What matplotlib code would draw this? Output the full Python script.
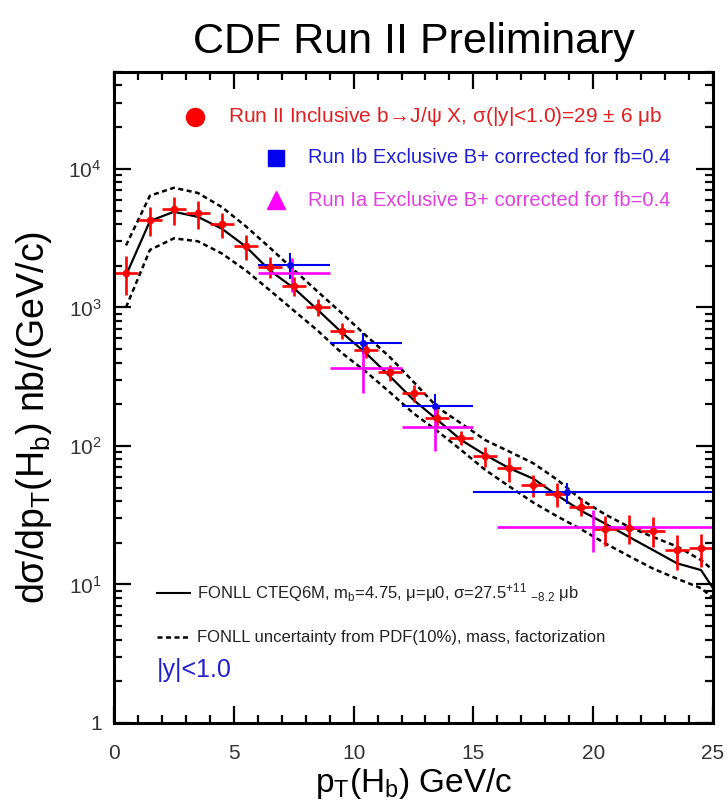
import numpy as np
import matplotlib
matplotlib.use("Agg")
import matplotlib.pyplot as plt

plt.rcParams["font.family"] = ["Liberation Sans", "DejaVu Sans"]
plt.rcParams["mathtext.default"] = "regular"

# Run II inclusive b -> J/psi X (1 GeV bins)
run2_pt = np.arange(0.5, 25, 1.0)
run2_xs = [1780, 4280, 5100, 4780, 3980, 2780, 1970, 1430, 1010, 680, 493, 340, 242,
           160, 115, 84, 69, 52, 45, 36.5, 25, 25.5, 24.5, 17.8, 18.3]
run2_err = [550, 1000, 1150, 1100, 820, 570, 350, 220, 140, 85, 65, 45, 35,
            25, 14, 14, 14, 9.5, 9, 5.5, 6, 6, 6, 5, 5]

# Run Ib exclusive B+
run1b_pt = [7.35, 10.4, 13.4, 18.9]
run1b_lo = [6, 9, 12, 15]
run1b_hi = [9, 12, 15, 25]
run1b_xs = [2030, 557, 195, 46.3]
run1b_err = [430, 100, 43, 8]

# Run Ia exclusive B+
run1a_pt = [7.42, 10.4, 13.4, 20.0]
run1a_lo = [6, 9, 12, 16]
run1a_hi = [9, 12, 15, 25]
run1a_xs = [1780, 364, 138, 25.8]
run1a_err = [480, 123, 46, 8.6]

# FONLL central and uncertainty band
fonll_pt = list(np.arange(0.5, 25, 1.0)) + [25.0]
fonll_c = [1700, 4200, 4900, 4500, 3700, 2750, 1850, 1380, 960, 660, 470, 320, 215,
           154, 110, 86, 69, 58, 44, 34, 27.5, 22, 17.7, 14.2, 12.7, 9.4]
fonll_hi = [2800, 6400, 7300, 6700, 5300, 3850, 2700, 1870, 1300, 910, 630, 440, 290,
            190, 145, 110, 91, 75, 57, 41, 32, 26, 22, 18.8, 15, 12.7]
fonll_lo = [1000, 2600, 3150, 3000, 2450, 1850, 1330, 950, 680, 470, 345, 245, 172,
            128, 93, 67, 51, 39, 31, 25, 19.8, 16, 13, 11, 9.4, 8]

RED = "#ff0000"
BLUE = "#0000ee"
MAG = "#ff00ff"

fig = plt.figure(figsize=(7.27, 8.10), dpi=100)
ax = fig.add_axes([114 / 727, 87 / 810, 599 / 727, 651 / 810])

ax.plot(fonll_pt, fonll_c, color="black", lw=1.6)
ax.plot(fonll_pt, fonll_hi, color="black", lw=1.8, dashes=(2.0, 1.4))
ax.plot(fonll_pt, fonll_lo, color="black", lw=1.8, dashes=(2.0, 1.4))

ax.errorbar(run2_pt, run2_xs, xerr=0.5, yerr=run2_err, fmt="o", ms=4.5,
            color=RED, elinewidth=1.9, capsize=0)

b_x = np.array(run1b_pt)
ax.errorbar(run1b_pt, run1b_xs, xerr=[b_x - run1b_lo, np.array(run1b_hi) - b_x],
            yerr=run1b_err, fmt="o", ms=4, color=BLUE, elinewidth=1.5, capsize=0)
a_x = np.array(run1a_pt)
ax.errorbar(run1a_pt, run1a_xs, xerr=[a_x - run1a_lo, np.array(run1a_hi) - a_x],
            yerr=run1a_err, fmt="none", color=MAG, elinewidth=1.9, capsize=0)

ax.set_yscale("log")
ax.set_xlim(0, 25)
ax.set_ylim(1, 5e4)
ax.set_xticks(range(0, 26, 5))
ax.set_xticks(range(0, 26), minor=True)
ax.set_yticks([1, 10, 100, 1000, 1e4], ["1", "$10^1$", "$10^2$", "$10^3$", "$10^4$"])
ax.tick_params(which="both", direction="in", top=True, right=True, width=1.6,
               labelsize=15, labelcolor="#333333")
ax.tick_params(which="major", length=12, pad=9)
ax.tick_params(which="minor", length=6)
ax.tick_params(axis="x", which="major", pad=15)
for s in ax.spines.values():
    s.set_linewidth(2.2)

ax.set_xlabel("p$_T$(H$_b$) GeV/c", fontsize=24, labelpad=2)
ax.set_ylabel("d\u03c3/dp$_T$(H$_b$) nb/(GeV/c)", fontsize=27)
ax.yaxis.set_label_coords(-0.1, 0.47)
fig.text(414 / 727, 1 - 42 / 810, "CDF Run II Preliminary", fontsize=31,
         ha="center", va="center")

# legend in the top part
tr = ax.transAxes
ax.plot([0.135], [0.931], "o", ms=13, color=RED, transform=tr, clip_on=False)
ax.text(0.19, 0.931, "Run II Inclusive b$\\!\\rightarrow\\!$J/\u03c8 X, \u03c3(|y|<1.0)=29 \u00b1 6 \u03bcb",
        color="#e02020", fontsize=15, va="center", transform=tr)
ax.plot([0.27], [0.868], "s", ms=12, color=BLUE, transform=tr)
ax.text(0.324, 0.868, "Run Ib Exclusive B+ corrected for fb=0.4",
        color="#2020d0", fontsize=14.5, va="center", transform=tr)
ax.plot([0.27], [0.803], "^", ms=13, color=MAG, transform=tr)
ax.text(0.324, 0.803, "Run Ia Exclusive B+ corrected for fb=0.4",
        color="#e040e0", fontsize=14.5, va="center", transform=tr)

# legend in the bottom part
ax.plot([0.072, 0.127], [0.2, 0.2], color="black", lw=1.5, transform=tr)
ax.text(0.139, 0.2, "FONLL CTEQ6M, m$_b$=4.75, \u03bc=\u03bc0, \u03c3=27.5$^{+11}$ $_{-8.2}$ \u03bcb",
        fontsize=12, color="#222222", va="center", transform=tr)
ax.plot([0.072, 0.127], [0.132, 0.132], color="black", lw=1.8, dashes=(2.0, 1.4), transform=tr)
ax.text(0.139, 0.132, "FONLL uncertainty from PDF(10%), mass, factorization",
        fontsize=12, color="#222222", va="center", transform=tr)
ax.text(0.072, 0.081, "|y|<1.0", color="#2020d0", fontsize=18, va="center", transform=tr)

fig.savefig("out.png", dpi=100)
